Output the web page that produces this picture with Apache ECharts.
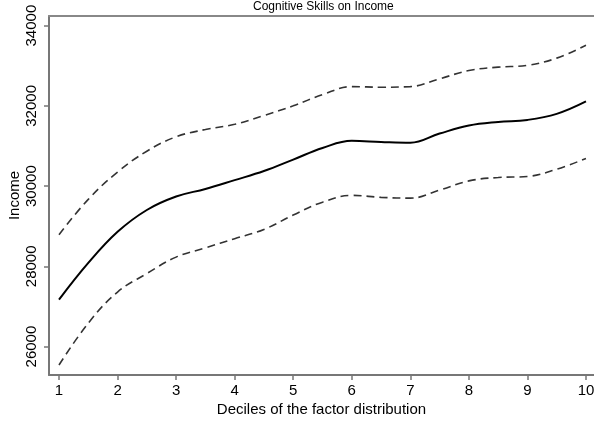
<!DOCTYPE html>
<html>
<head>
<meta charset="utf-8">
<script src="https://cdn.jsdelivr.net/npm/echarts@6/dist/echarts.min.js"></script>
<style>html,body{margin:0;padding:0;background:#fff;}#c{width:594px;height:425px;}</style>
</head>
<body>
<div id="c"></div>
<script>
var deciles = [1, 1.5, 2, 2.5, 3, 3.5, 4, 4.5, 5, 5.5, 6, 6.5, 7, 7.5, 8, 8.5, 9, 9.5, 10];
var meanIncome = [27170, 28085, 28860, 29405, 29740, 29930, 30150, 30375, 30660, 30950, 31130, 31100, 31080, 31310, 31510, 31600, 31650, 31800, 32110];
var upperCI = [28790, 29670, 30350, 30870, 31230, 31410, 31540, 31760, 32000, 32280, 32480, 32465, 32480, 32675, 32880, 32965, 33010, 33190, 33510];
var lowerCI = [25540, 26585, 27360, 27820, 28230, 28460, 28690, 28920, 29280, 29600, 29770, 29720, 29700, 29900, 30130, 30215, 30240, 30420, 30690];
var xTicks = [1, 2, 3, 4, 5, 6, 7, 8, 9, 10];
var yTicks = [26000, 28000, 30000, 32000, 34000];
var titleText = 'Cognitive Skills on Income';
var xName = 'Deciles of the factor distribution';
var yName = 'Income';

function pairs(xs, ys) { return xs.map(function (x, i) { return [x, ys[i]]; }); }

var FONT = 'Liberation Sans, Arial, Helvetica, sans-serif';
var AX = '#777';
var chart = echarts.init(document.getElementById('c'), null, {renderer: 'canvas'});
chart.setOption({
  animation: false,
  backgroundColor: '#fff',
  title: {
    text: titleText, left: 253, top: 0, padding: [1, 0, 0, 0],
    textStyle: {fontFamily: FONT, fontSize: 12, fontWeight: 'normal', color: '#000'}
  },
  grid: {left: 49, top: 16, right: 0, bottom: 50, containLabel: false, outerBoundsMode: 'none'},
  xAxis: [{
    type: 'value', min: 0.8292, max: 10.137,
    name: xName, nameLocation: 'middle', nameGap: 27, nameMoveOverlap: false,
    nameTextStyle: {fontFamily: FONT, fontSize: 15, color: '#000'},
    axisLine: {show: true, onZero: false, lineStyle: {color: AX, width: 2}},
    axisTick: {show: true, length: 5, customValues: xTicks, lineStyle: {color: AX, width: 1.5}},
    axisLabel: {customValues: xTicks, margin: 8, fontFamily: FONT, fontSize: 15, color: '#000'},
    splitLine: {show: false}
  }, {
    type: 'value', position: 'top', min: 0.8292, max: 10.137,
    axisLine: {show: true, onZero: false, lineStyle: {color: '#888', width: 2}},
    axisTick: {show: false}, axisLabel: {show: false}, splitLine: {show: false}
  }],
  yAxis: {
    type: 'value', min: 25292, max: 34240,
    name: yName, nameLocation: 'middle', nameGap: 27, nameMoveOverlap: false,
    nameTextStyle: {fontFamily: FONT, fontSize: 15, color: '#000'},
    axisLine: {show: true, onZero: false, lineStyle: {color: AX, width: 2}},
    axisTick: {show: true, length: 5, customValues: yTicks, lineStyle: {color: AX, width: 1.5}},
    axisLabel: {customValues: yTicks, rotate: 90, margin: 10, fontFamily: FONT, fontSize: 15, color: '#000',
      formatter: function (v) { return String(v); }},
    splitLine: {show: false}
  },
  series: [{
    type: 'line', data: pairs(deciles, upperCI), smooth: 0.4, showSymbol: false,
    lineStyle: {color: '#333', width: 1.6, type: [8, 5]}
  }, {
    type: 'line', data: pairs(deciles, meanIncome), smooth: 0.4, showSymbol: false,
    lineStyle: {color: '#000', width: 2}
  }, {
    type: 'line', data: pairs(deciles, lowerCI), smooth: 0.4, showSymbol: false,
    lineStyle: {color: '#333', width: 1.6, type: [8, 5]}
  }]
});
</script>
</body>
</html>
